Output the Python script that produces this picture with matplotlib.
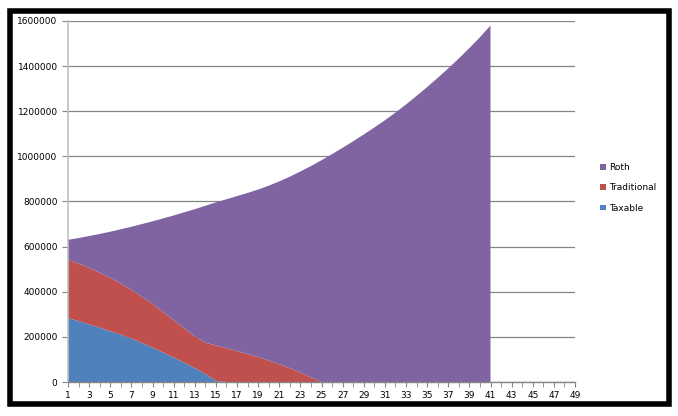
import numpy as np
import matplotlib
matplotlib.use('Agg')
import matplotlib.pyplot as plt
from matplotlib.patches import Rectangle

# categorias del eje x (1..49), datos solo hasta 41
categorias = list(range(1, 50))
periodos = list(range(1, 42))

taxable = [284, 270, 255, 241, 225, 210, 193, 173, 153, 131,
           109, 86, 62, 36, 5, 0, 0, 0, 0, 0,
           0, 0, 0, 0, 0, 0, 0, 0, 0, 0,
           0, 0, 0, 0, 0, 0, 0, 0, 0, 0, 0]
traditional = [258, 255, 251, 243, 237, 226, 215, 205, 193, 179,
               166, 152, 141, 138, 157, 150, 137, 124, 110, 95,
               79, 61, 42, 21, 0, 0, 0, 0, 0, 0,
               0, 0, 0, 0, 0, 0, 0, 0, 0, 0, 0]
roth = [88, 113, 141, 172, 204, 241, 280, 322, 366, 415,
        463, 514, 563, 607, 634, 660, 687, 714, 743, 775,
        810, 849, 891, 936, 983, 1010, 1038, 1067, 1097, 1128,
        1160, 1194, 1230, 1268, 1307, 1348, 1390, 1434, 1480, 1528, 1580]

taxable = np.array(taxable) * 1000
traditional = np.array(traditional) * 1000
roth = np.array(roth) * 1000

colores = {'Roth': '#8064A2', 'Traditional': '#C0504D', 'Taxable': '#4F81BD'}

fig = plt.figure(figsize=(6.78, 4.16), dpi=100)
ax = fig.add_axes([68/678, 34/416, 507/678, 361/416])

ax.stackplot(periodos, taxable, traditional, roth,
             colors=[colores['Taxable'], colores['Traditional'], colores['Roth']],
             labels=['Taxable', 'Traditional', 'Roth'], zorder=2, linewidth=0)

ax.set_xlim(1, 49)
ax.set_ylim(0, 1600000)
ax.set_yticks(np.arange(0, 1600001, 200000))
ax.set_yticklabels([str(v) for v in range(0, 1600001, 200000)])
ax.set_xticks(categorias[::2])
ax.set_xticks(categorias, minor=True)
ax.grid(axis='y', color='#868686', linewidth=0.9, zorder=1)

for s in ['top', 'right']:
    ax.spines[s].set_visible(False)
ax.spines['left'].set_color('#BFBFBF')
ax.spines['bottom'].set_color('#868686')
ax.spines['left'].set_linewidth(1.2)
ax.spines['bottom'].set_linewidth(1.0)
ax.tick_params(axis='y', length=4, color='#868686', labelsize=6.5, pad=3.5)
ax.tick_params(axis='x', which='both', length=3.5, color='#868686', labelsize=6.5, pad=3)
ax.tick_params(axis='x', which='minor', labelbottom=False)

handles, labels = ax.get_legend_handles_labels()
leg = fig.legend(handles[::-1], labels[::-1], loc='upper left',
                 bbox_to_anchor=(592/678, 1 - 155/416), frameon=False,
                 fontsize=6.5, handlelength=0.6, handleheight=0.6,
                 handletextpad=0.4, labelspacing=1.25)

# marco negro
fig.patches.append(Rectangle((9.5/678, 12/416), 659/678, 393.5/416,
                             transform=fig.transFigure, fill=False,
                             edgecolor='black', linewidth=4, zorder=10))

fig.savefig('out.png', dpi=100)
